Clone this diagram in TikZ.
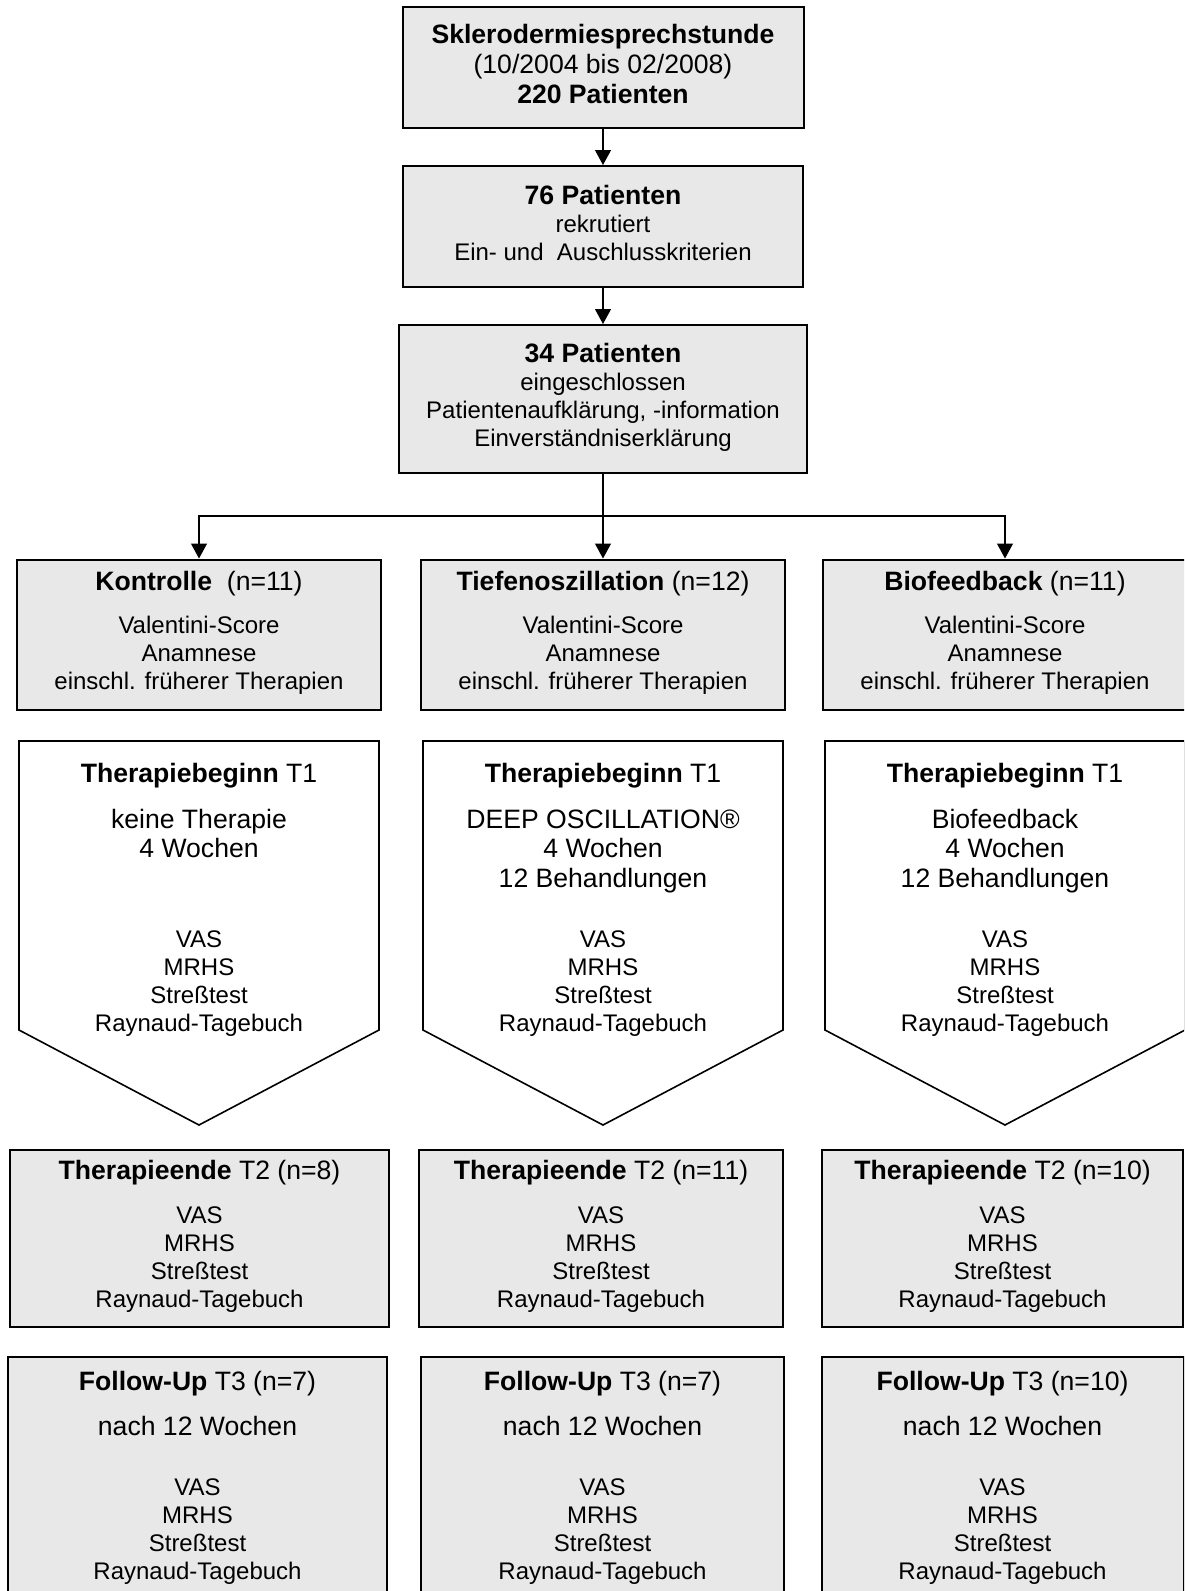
\documentclass[tikz,border=0pt]{standalone}
\usepackage{fontspec}
\setmainfont{Liberation Sans}
\usetikzlibrary{arrows.meta}
\definecolor{boxGray}{HTML}{E8E8E8}
\newcommand{\boxlines}[1]{\begin{tabular}{@{}c@{}}#1\end{tabular}}
\newcommand{\titlesize}{\fontsize{13.3}{14}\selectfont}
\begin{document}
\begin{tikzpicture}
[x=0.5pt,y=-0.5pt,
  font=\fontsize{12}{14}\selectfont,
  boxDecorate/.style={draw,line width=1pt,fill=boxGray,inner sep=0pt},
  shapeDecorate/.style={draw,line width=0.8pt,fill=white},
  textDecorate/.style={anchor=north,inner sep=0pt},
  arrowDecorate/.style={-{Triangle[length=7.5pt,width=8pt]},line width=0.6pt},
  lineDecorate/.style={-,line width=0.6pt}]
\useasboundingbox (0,0) rectangle (1184,1591);
\clip (0,0) rectangle (1184,1591);
%% recruitment
\node (top) at (603,67.5) [boxDecorate,minimum width=200.5pt,minimum height=60.5pt]
  {\fontsize{13.3}{15}\selectfont\boxlines{\textbf{Sklerodermiesprechstunde}\\(10/2004 bis 02/2008)\\\textbf{220 Patienten}}};
\node (rec) at (603,226.5) [boxDecorate,minimum width=200pt,minimum height=60.5pt]
  {\boxlines{\titlesize\textbf{76 Patienten}\\rekrutiert\\Ein- und\ \ Auschlusskriterien}};
\node (inc) at (603,399) [boxDecorate,minimum width=204pt,minimum height=74pt]
  {\boxlines{\titlesize\textbf{34 Patienten}\\eingeschlossen\\Patientenaufklärung, -information\\Einverständniserklärung}};
\coordinate (split) at (603,516);
\draw[arrowDecorate] (top) -- (rec);
\draw[arrowDecorate] (rec) -- (inc);
\draw[lineDecorate] (inc) -- (split);
%% groups
\foreach \name/\x/\gtitle in {
  K/199/{\textbf{Kontrolle}\ \ (n=11)},
  T/603/{\textbf{Tiefenoszillation} (n=12)},
  B/1005/{\textbf{Biofeedback} (n=11)}}
{
  \node (g\name) at (\x,634.5) [boxDecorate,minimum width=182pt,minimum height=75pt]
    {\boxlines{\titlesize\gtitle\\[7.5pt]Valentini-Score\\Anamnese\\einschl. früherer Therapien}};
  \draw[arrowDecorate] (split) -| (g\name.north);
}
%% therapy start
\foreach \name/\x/\body in {
  K/199/{keine Therapie\\4 Wochen},
  T/603/{DEEP OSCILLATION®\\4 Wochen\\12 Behandlungen},
  B/1005/{Biofeedback\\4 Wochen\\12 Behandlungen}}
{
  \coordinate (p\name) at (\x,741);
  \draw[shapeDecorate] (p\name) ++(-180,0) -- ++(0,289) -- ++(180,95)
    -- ++(180,-95) -- ++(0,-289) -- cycle;
  \node (s\name) at (\x,762.4) [textDecorate] {\boxlines{\titlesize\textbf{Therapiebeginn} T1}};
  \node (d\name) at (\x,807.4) [textDecorate]
    {\fontsize{13.3}{14.75}\selectfont\boxlines{\body}};
  \node (m\name) at (\x,927.4) [textDecorate]
    {\boxlines{VAS\\MRHS\\Streßtest\\Raynaud-Tagebuch}};
}
%% therapy end
\foreach \name/\x/\w/\n in {K/199.5/189.5/8, T/601/182/11, B/1002.5/180.5/10}
{
  \node (e\name) at (\x,1238) [boxDecorate,minimum width=\w pt,minimum height=88.5pt]
    {\boxlines{\titlesize\textbf{Therapieende} T2 (n=\n)\\[8pt]VAS\\MRHS\\Streßtest\\Raynaud-Tagebuch}};
}
%% follow-up
\foreach \name/\x/\w/\n in {K/197.5/189.5/7, T/602.5/181.5/7, B/1002.5/181/10}
{
  \node (f\name) at (\x,1356) [boxDecorate,anchor=north,minimum width=\w pt,minimum height=125pt] {};
  \node (u\name) at (\x,1370.4) [textDecorate]
    {\boxlines{\titlesize\textbf{Follow-Up} T3 (n=\n)\\[8.5pt]\titlesize nach 12 Wochen\\[16pt]VAS\\MRHS\\Streßtest\\Raynaud-Tagebuch}};
}
\end{tikzpicture}
\end{document}
